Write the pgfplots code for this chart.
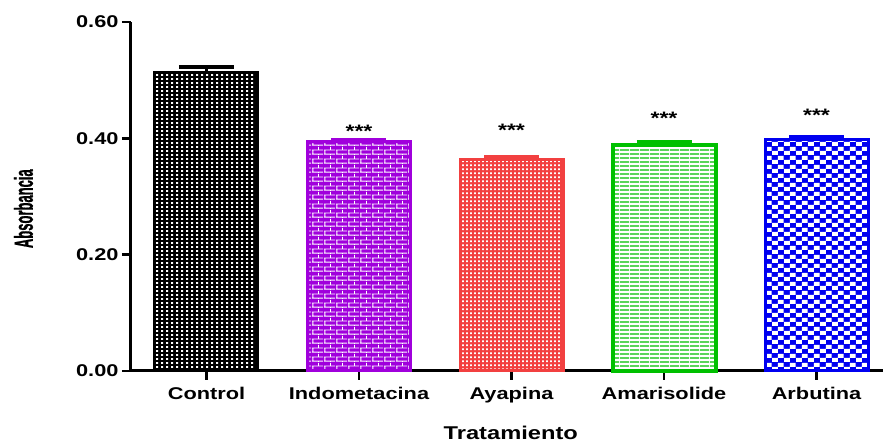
\documentclass[border=0pt]{standalone}
\usepackage{graphicx}
\usepackage{pgfplots}
\pgfplotsset{compat=1.18}
\usepackage{fontspec}
\setmainfont{Liberation Sans}[FakeStretch=1.28]
\newfontfamily\ylabfont{Liberation Sans}[BoldFeatures={FakeBold=1.2}]
\usetikzlibrary{patterns}

\definecolor{indopurple}{HTML}{A000DC}
\definecolor{ayared}{HTML}{F24040}
\definecolor{amagreen}{HTML}{00C000}
\definecolor{arbblue}{HTML}{0000F0}

% fill patterns for the bars
\pgfdeclarepatternformonly{finesquares}{\pgfpointorigin}{\pgfpoint{5pt}{4.4pt}}{\pgfpoint{5pt}{4.4pt}}{%
  \pgfpathrectangle{\pgfpoint{1.3pt}{1.2pt}}{\pgfpoint{2.4pt}{2pt}}\pgfusepath{fill}}
\pgfdeclarepatternformonly{smallsquares}{\pgfpointorigin}{\pgfpoint{4.4pt}{4.3pt}}{\pgfpoint{4.4pt}{4.3pt}}{%
  \pgfpathrectangle{\pgfpoint{1.2pt}{1.1pt}}{\pgfpoint{2pt}{1.8pt}}\pgfusepath{fill}}
\pgfdeclarepatternformonly{brickwall}{\pgfpointorigin}{\pgfpoint{12pt}{9pt}}{\pgfpoint{12pt}{9pt}}{%
  \pgfpathrectangle{\pgfpoint{0pt}{0.5pt}}{\pgfpoint{12pt}{1pt}}
  \pgfpathrectangle{\pgfpoint{0pt}{5pt}}{\pgfpoint{12pt}{1pt}}
  \pgfpathrectangle{\pgfpoint{0.5pt}{0.5pt}}{\pgfpoint{1pt}{5.5pt}}
  \pgfpathrectangle{\pgfpoint{6.5pt}{5pt}}{\pgfpoint{1pt}{4pt}}
  \pgfpathrectangle{\pgfpoint{6.5pt}{0pt}}{\pgfpoint{1pt}{1.5pt}}
  \pgfusepath{fill}}
\pgfdeclarepatternformonly{hstripes}{\pgfpointorigin}{\pgfpoint{10pt}{4.45pt}}{\pgfpoint{10pt}{4.45pt}}{%
  \pgfpathrectangle{\pgfpoint{0pt}{1.5pt}}{\pgfpoint{10pt}{1.5pt}}\pgfusepath{fill}}
\pgfdeclarepatternformonly{checks}{\pgfpointorigin}{\pgfpoint{11.7pt}{9pt}}{\pgfpoint{11.7pt}{9pt}}{%
  \pgfpathrectangle{\pgfpointorigin}{\pgfpoint{5.85pt}{4.5pt}}
  \pgfpathrectangle{\pgfpoint{5.85pt}{4.5pt}}{\pgfpoint{5.85pt}{4.5pt}}\pgfusepath{fill}}

\pgfplotsset{
  treatbar/.style={ybar, bar width=103pt, bar shift=0pt, line width=3pt},
  capbars/.style={error bars/.cd, y dir=plus, y explicit, error mark=|,
    error bar style={line width=3pt, #1},
    error mark options={line width=4pt, mark size=27.5pt, #1}},
}

\begin{document}
\begin{tikzpicture}
\begin{axis}[
  scale only axis, width=752pt, height=349pt,
  xmin=-0.495, xmax=4.436, ymin=0, ymax=0.6,
  axis x line*=bottom, axis y line*=left,
  axis line style={line width=3pt, -},
  xtick={0,1,2,3,4},
  xticklabels={Control,Indometacina,Ayapina,Amarisolide,Arbutina},
  ytick={0,0.2,0.4,0.6},
  yticklabels={0.00,0.20,0.40,0.60},
  tick align=outside, major tick length=9pt,
  tick style={line width=2.5pt, black},
  ticklabel style={font=\fontsize{17}{20}\selectfont\bfseries},
  xticklabel style={yshift=-4pt},
  xlabel={Tratamiento},
  xlabel style={at={(axis description cs:0.505,-0.178)}, anchor=center,
    font=\fontsize{18.5}{21}\selectfont\bfseries},
  ylabel={\ylabfont\bfseries\fontsize{13}{15}\selectfont\scalebox{1}[2.0]{Absorbancia}},
  ylabel style={at={(axis description cs:-0.143,0.465)}, anchor=center},
  clip=false,
]
% Control
\addplot[treatbar, draw=black, preaction={fill=black},
  preaction={pattern=finesquares, pattern color=white}, capbars=black]
  coordinates {(0,0.514) +- (0,0.008)};
% Indometacina
\addplot[treatbar, draw=indopurple, preaction={fill=indopurple},
  preaction={pattern=brickwall, pattern color=white}, capbars=indopurple]
  coordinates {(1,0.394) +- (0,0.003)};
% Ayapina
\addplot[treatbar, draw=ayared, preaction={fill=ayared},
  preaction={pattern=smallsquares, pattern color=white}, capbars=ayared]
  coordinates {(2,0.363) +- (0,0.005)};
% Amarisolide
\addplot[treatbar, draw=amagreen, line width=4pt, preaction={fill=white},
  preaction={pattern=hstripes, pattern color=amagreen}, capbars=amagreen]
  coordinates {(3,0.389) +- (0,0.005)};
% Arbutina
\addplot[treatbar, draw=arbblue, preaction={fill=arbblue},
  preaction={pattern=checks, pattern color=white}, capbars=arbblue]
  coordinates {(4,0.398) +- (0,0.004)};
% significance marks
\addplot[draw=none, mark=none, nodes near coords={***},
  nodes near coords style={anchor=center, yshift=-4pt,
    font=\fontsize{18}{20}\selectfont\bfseries}]
  coordinates {(1,0.419) (2,0.420) (3,0.442) (4,0.447)};
\end{axis}
\pgfresetboundingbox
\path[use as bounding box] ([xshift=-131pt,yshift=-72pt]current axis.south west)
  rectangle ([yshift=22pt]current axis.north east);
\end{tikzpicture}
\end{document}
